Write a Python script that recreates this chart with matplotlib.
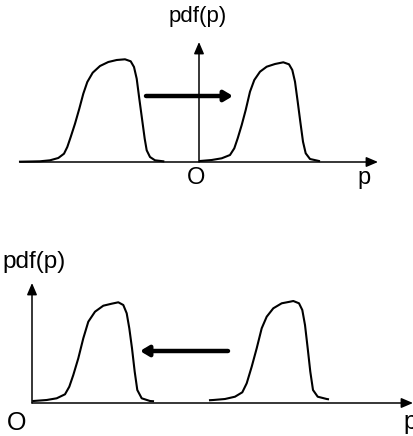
import matplotlib
matplotlib.use('Agg')
from matplotlib import pyplot

pyplot.rcParams['font.family'] = ['Liberation Sans', 'DejaVu Sans']

# top panel: two pdfs either side of the origin
top_left_p = [-179, -168, -159, -149, -140.7, -135, -131.7, -128.3, -124, -119.7, -115.7,
              -111.7, -106.3, -99, -90.7, -82.3, -74, -68.3, -65, -62.3, -59.7, -57,
              -54.3, -52.3, -49, -44, -35.7]
top_left_pdf = [0.3, 0.5, 0.7, 1.7, 4, 8.3, 15, 25, 38.3, 53.3, 68.3,
                80, 89.3, 96, 100, 102, 102.7, 100.7, 95, 83.3, 63.3, 43.3,
                23.3, 11.7, 5, 1.7, 0.7]
top_right_p = [1, 12.7, 22.7, 31, 35.3, 38.7, 42.7, 46.7, 51, 55.3, 61, 67.7, 76, 84.3,
               90, 93.3, 96, 98.7, 101.3, 104, 106.7, 111, 120]
top_right_pdf = [1, 2, 3.7, 7, 13.7, 23.7, 37, 52, 70.3, 82, 90.3, 95.3, 98, 99.7,
                 97.7, 92, 80.3, 60.3, 40.3, 20.3, 8.7, 3, 1]
top_shift = [-53, 34]
top_shift_level = 66

# bottom panel: both pdfs on the positive side
bot_left_p = [1.3, 14.7, 24.7, 33, 37.3, 41.3, 46.3, 51.3, 56.3, 63, 71.3, 79.7, 86.3,
              91.3, 94.7, 97.3, 100, 102.7, 105.3, 109.7, 118, 121]
bot_left_pdf = [2, 3, 4.7, 8.7, 16.3, 28, 44.7, 64.7, 81.3, 91.3, 97.3, 99.3, 100.7,
                98, 89.7, 74.7, 54.7, 31.3, 13, 4.7, 2, 1.8]
bot_right_p = [178, 181.3, 193, 203, 210.3, 214.7, 219.7, 224.7, 229.7, 234.7, 241.3,
               249.7, 258, 261.3, 267, 270.3, 273, 275.7, 278.3, 281, 285.7, 294.7, 296]
bot_right_pdf = [2.8, 3, 4, 6.3, 10.7, 19.7, 36.3, 54.7, 74.7, 86.3, 94.7,
                 99.7, 101.3, 102, 99.7, 93, 78, 54.7, 31.3, 13, 6.3, 4, 3.8]
bot_shift = [196, 108]
bot_shift_level = 52

fig = pyplot.figure(figsize=(4.14, 4.36), dpi=100)
ax1 = fig.add_axes([0, 0.5, 1, 0.5])
ax2 = fig.add_axes([0, 0, 1, 0.5])

def arrow(ax, x0, y0, x1, y1, lw, hl, hw):
    ax.annotate('', xy=(x1, y1), xytext=(x0, y0),
                arrowprops=dict(arrowstyle='-|>,head_length=%g,head_width=%g' % (hl, hw),
                                lw=lw, color='black', shrinkA=0, shrinkB=0))

# top
ax1.set_xlim(-199, 215)
ax1.set_ylim(-56, 162)
ax1.axis('off')
ax1.plot(top_left_p, top_left_pdf, color='black', lw=1.5, solid_joinstyle='round')
ax1.plot(top_right_p, top_right_pdf, color='black', lw=1.5, solid_joinstyle='round')
arrow(ax1, -179, 0, 179, 0, 1.1, 0.7, 0.3)
arrow(ax1, 0, 0, 0, 120, 1.1, 0.7, 0.3)
arrow(ax1, top_shift[0], top_shift_level, top_shift[1], top_shift_level, 3.2, 0.5, 0.3)
ax1.text(-1, 140, 'pdf(p)', fontsize=16, ha='center', va='baseline')
ax1.text(-3, -16, 'O', fontsize=17, ha='center', va='center')
ax1.text(165, -16, 'p', fontsize=17, ha='center', va='center')

# bottom
ax2.set_xlim(-32, 382)
ax2.set_ylim(-33, 185)
ax2.axis('off')
ax2.plot(bot_left_p, bot_left_pdf, color='black', lw=1.5, solid_joinstyle='round')
ax2.plot(bot_right_p, bot_right_pdf, color='black', lw=1.5, solid_joinstyle='round')
arrow(ax2, 0, 0, 381, 0, 1.1, 0.7, 0.3)
arrow(ax2, 0, 0, 0, 120, 1.1, 0.7, 0.3)
arrow(ax2, bot_shift[0], bot_shift_level, bot_shift[1], bot_shift_level, 3.2, 0.5, 0.3)
ax2.text(-30, 135, 'pdf(p)', fontsize=17.5, ha='left', va='baseline')
ax2.text(-15, -20, 'O', fontsize=18, ha='center', va='center')
ax2.text(378, -19, 'p', fontsize=18, ha='center', va='center')

fig.savefig('out.png', dpi=100)
